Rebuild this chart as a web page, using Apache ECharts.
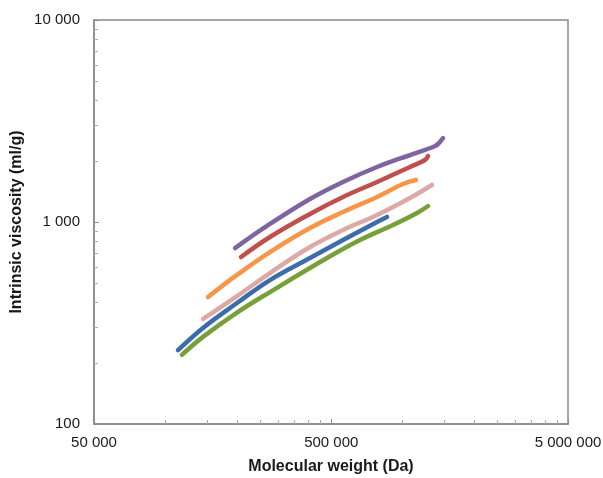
<!DOCTYPE html>
<html>
<head>
<meta charset="utf-8">
<script src="https://cdn.jsdelivr.net/npm/echarts@6/dist/echarts.min.js"></script>
<style>html,body{margin:0;padding:0;background:#fff}#c{width:603px;height:478px}</style>
</head>
<body>
<div id="c"></div>
<script>
var xTicks = [50000, 500000, 5000000];
var yTicks = [100, 1000, 10000];
var purple = [[196800,743],[276400,978],[407700,1300],[562000,1578],[782000,1872],[1077000,2146],[1347000,2351],[1414000,2433],[1485000,2605]];
var red    = [[208600,671],[276400,843],[407700,1096],[562000,1330],[782000,1578],[1077000,1872],[1246000,2027],[1284000,2122]];
var orange = [[151400,425],[200600,547],[276400,710],[407700,934],[562000,1121],[782000,1330],[1006000,1542],[1142000,1614]];
var pink   = [[144200,331],[200600,430],[276400,559],[407700,752],[562000,913],[782000,1083],[1077000,1315],[1334000,1525]];
var blue   = [[113100,232],[144200,299],[200600,397],[276400,516],[407700,663],[562000,814],[782000,1000],[861600,1059]];
var green  = [[117500,220],[144200,270],[200600,356],[276400,450],[481000,663],[662800,814],[913000,966],[1153000,1108],[1284000,1200]];

var seriesDefs = [
  ['purple', purple, '#8064A2'],
  ['red', red, '#C0504D'],
  ['orange', orange, '#F79646'],
  ['pink', pink, '#DDA9A7'],
  ['blue', blue, '#3B6DAA'],
  ['green', green, '#77A03B']
];

function fmt(v){ return String(Number(Number(v).toPrecision(2))).replace(/\B(?=(\d{3})+(?!\d))/g, ' '); }

var chart = echarts.init(document.getElementById('c'), null, {renderer:'canvas'});
var axisCol = '#8a8a8a';
var font = '"Liberation Sans", Arial, sans-serif';
chart.setOption({
  animation: false,
  grid: {left: 94, right: 35, top: 20, bottom: 54, show: true, borderColor: axisCol, borderWidth: 1.5, containLabel: false, outerBoundsMode: 'none'},
  xAxis: {
    type: 'log', logBase: 10, min: xTicks[0], max: xTicks[xTicks.length-1], interval: 1,
    name: 'Molecular weight (Da)', nameLocation: 'middle', nameGap: 35,
    nameTextStyle: {fontFamily: font, fontWeight: 'bold', fontSize: 16, color: '#1a1a1a'},
    axisLine: {show: true, lineStyle: {color: axisCol, width: 1.5}},
    axisTick: {show: true, inside: true, length: 5, lineStyle: {color: axisCol}},
    minorTick: {show: true, splitNumber: 9, length: 4, lineStyle: {color: '#aaa'}},
    axisLabel: {formatter: fmt, fontFamily: font, fontSize: 15, color: '#1a1a1a', margin: 11},
    splitLine: {show: false}, minorSplitLine: {show: false}
  },
  yAxis: {
    type: 'log', logBase: 10, min: yTicks[0], max: yTicks[yTicks.length-1], interval: 1,
    name: 'Intrinsic viscosity (ml/g)', nameLocation: 'middle', nameGap: 69, nameMoveOverlap: false,
    nameTextStyle: {fontFamily: font, fontWeight: 'bold', fontSize: 16, color: '#1a1a1a'},
    axisLine: {show: true, lineStyle: {color: axisCol, width: 1.5}},
    axisTick: {show: true, inside: true, length: 5, lineStyle: {color: axisCol}},
    minorTick: {show: true, splitNumber: 9, length: 4, lineStyle: {color: '#aaa'}},
    axisLabel: {formatter: fmt, fontFamily: font, fontSize: 15, color: '#1a1a1a', margin: 14},
    splitLine: {show: false}, minorSplitLine: {show: false}
  },
  series: seriesDefs.map(function(s){
    return {name: s[0], type: 'line', data: s[1], smooth: 0.4, showSymbol: false, symbol: 'none',
      lineStyle: {color: s[2], width: 4.5, cap: 'round', join: 'round'}, itemStyle: {color: s[2]}};
  })
});
</script>
</body>
</html>
